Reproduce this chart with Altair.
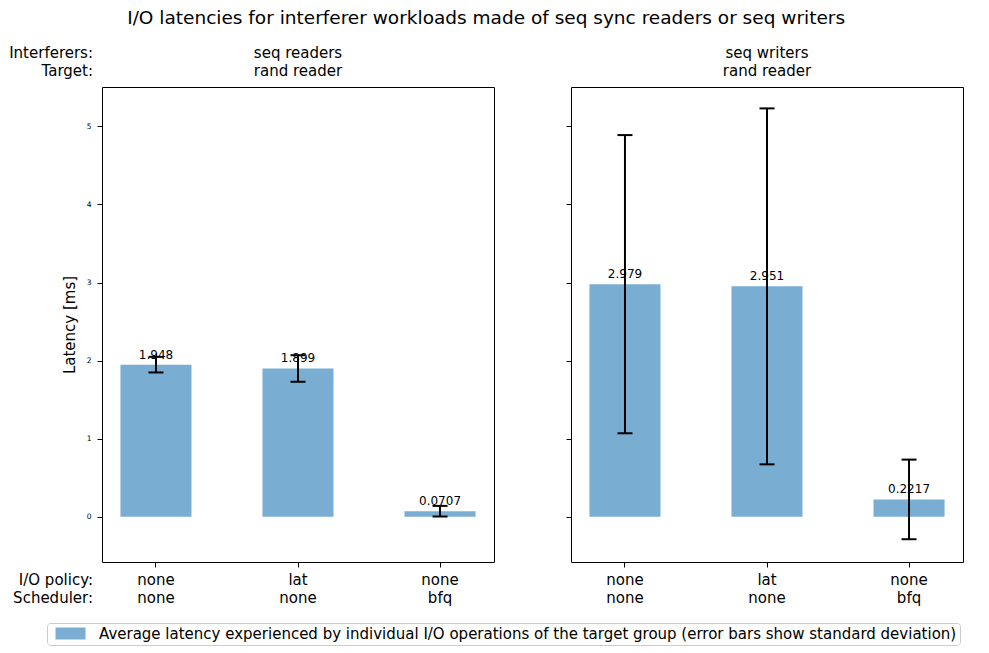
import altair as alt
import pandas as pd

# ---- data ----
policies = ["none", "lat", "none"]
schedulers = ["none", "none", "bfq"]
interferers = ["seq readers", "seq writers"]
targets = ["rand reader", "rand reader"]
means_readers = [1.948, 1.899, 0.0707]
std_readers = [0.10, 0.17, 0.068]
means_writers = [2.979, 2.951, 0.2217]
std_writers = [1.91, 2.28, 0.51]
header_row_labels = ["Interferers:", "Target:"]
footer_row_labels = ["I/O policy:", "Scheduler:"]
y_ticks = [0, 1, 2, 3, 4, 5]
legend_label = ("Average latency experienced by individual I/O operations of the "
                "target group (error bars show standard deviation)")
title_text = "I/O latencies for interferer workloads made of seq sync readers or seq writers"

FONT = "DejaVu Sans"
BASE = 15
BAR_COLOR = "#79add2"
W, H = 392, 475

cats = [f"{p}|{s}" for p, s in zip(policies, schedulers)]


def text_line(label, x, y, align):
    return alt.Chart(pd.DataFrame({"t": [label]})).mark_text(
        font=FONT, fontSize=BASE, align=align, baseline="middle", color="#000"
    ).encode(x=alt.value(x), y=alt.value(y), text="t:N")


def panel(means, stds, interferer, target, first):
    df = pd.DataFrame({"cat": cats, "mean": means, "std": stds, "series": legend_label})
    df["lo"] = df["mean"] - df["std"]
    df["hi"] = df["mean"] + df["std"]
    base = alt.Chart(df)
    x = alt.X("cat:N", sort=cats,
              scale=alt.Scale(paddingInner=0.5, paddingOuter=0.13),
              axis=alt.Axis(title=None, labelAngle=0, labelExpr="split(datum.label, '|')",
                            labelFont=FONT, labelFontSize=BASE, labelColor="#000",
                            labelLineHeight=18, tickSize=5, tickColor="#000",
                            labelPadding=5, domain=False, grid=False))
    yscale = alt.Scale(domain=[-0.58, 5.505], nice=False, zero=False)
    yaxis = alt.Axis(values=y_ticks, format="d", tickSize=5, tickColor="#000", domain=False,
                     grid=False, labels=first, labelFont=FONT, labelFontSize=7.5,
                     labelColor="#000", labelPadding=6,
                     title="Latency [ms]" if first else None,
                     titleFont=FONT, titleFontSize=BASE, titleFontWeight="normal",
                     titleColor="#000", titlePadding=9)
    bars = base.mark_bar(color=BAR_COLOR).encode(
        x=x,
        y=alt.Y("mean:Q", scale=yscale, axis=yaxis),
        color=alt.Color("series:N", scale=alt.Scale(range=[BAR_COLOR]),
                        legend=alt.Legend(title=None, orient="none", legendX=-55, legendY=536,
                                          labelFont=FONT, labelFontSize=BASE, labelColor="#000",
                                          symbolType="M-2.5,-1H2.5V1H-2.5Z", symbolSize=144,
                                          symbolStrokeWidth=0, symbolOpacity=1,
                                          symbolOffset=13, labelOffset=21,
                                          strokeColor="#cccccc", fillColor="white",
                                          padding=3, cornerRadius=3, labelLimit=2000)),
    )
    rule = base.mark_rule(color="black", strokeWidth=2).encode(
        x=alt.X("cat:N", sort=cats), y="lo:Q", y2="hi:Q")
    cap_hi = base.mark_tick(color="black", thickness=2, size=15, opacity=1).encode(
        x=alt.X("cat:N", sort=cats), y="hi:Q")
    cap_lo = base.mark_tick(color="black", thickness=2, size=15, opacity=1).encode(
        x=alt.X("cat:N", sort=cats), y="lo:Q")
    labels = base.mark_text(font=FONT, fontSize=12, baseline="bottom", dy=-3, color="#000").encode(
        x=alt.X("cat:N", sort=cats), y="mean:Q",
        text=alt.Text("mean:Q", format=".4~g"))
    layers = [bars, rule, cap_hi, cap_lo, labels,
              text_line(interferer, W / 2, -34, "center"),
              text_line(target, W / 2, -16, "center")]
    if first:
        layers += [text_line(header_row_labels[0], -9, -34, "right"),
                   text_line(header_row_labels[1], -9, -16, "right"),
                   text_line(footer_row_labels[0], -9, H + 18, "right"),
                   text_line(footer_row_labels[1], -9, H + 36, "right")]
    return alt.layer(*layers).properties(width=W, height=H)


left = panel(means_readers, std_readers, interferers[0], targets[0], True)
right = panel(means_writers, std_writers, interferers[1], targets[1], False)

chart = alt.hconcat(left, right, spacing=70).properties(
    title=alt.TitleParams(title_text, font=FONT, fontSize=18.5, fontWeight="normal",
                          color="#000", anchor="middle", offset=18),
    padding={"left": 0, "top": 1, "right": 1, "bottom": 0},
).configure_view(stroke="#000", strokeWidth=1).configure_concat(spacing=70)

chart.save("out.html", embed_options={"renderer": "svg", "actions": False})
